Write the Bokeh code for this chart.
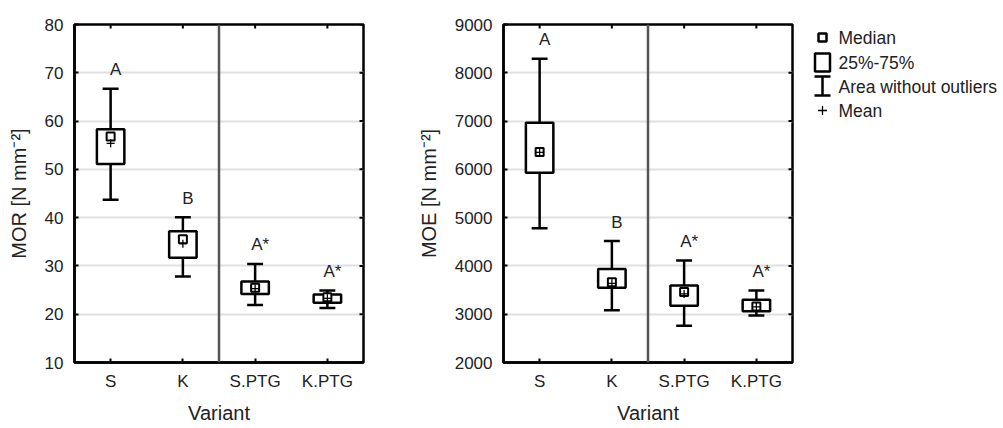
import numpy as np
from bokeh.plotting import figure
from bokeh.layouts import row
from bokeh.models import Range1d, FixedTicker, Span, ColumnDataSource
from bokeh.embed import file_html
from bokeh.resources import INLINE
from bokeh.core.properties import value

# ---------------- data ----------------
variants = ["S", "K", "S.PTG", "K.PTG"]
letters = ["A", "B", "A*", "A*"]

mor_low = [43.7, 27.8, 21.9, 21.3]
mor_q1 = [51.1, 31.7, 24.2, 22.4]
mor_median = [56.8, 35.5, 25.5, 23.5]
mor_mean = [55.4, 34.6, 25.3, 23.3]
mor_q3 = [58.3, 37.2, 26.8, 24.1]
mor_high = [66.7, 40.1, 30.4, 24.9]
mor_ticks = [10, 20, 30, 40, 50, 60, 70, 80]

moe_low = [4780, 3080, 2760, 2975]
moe_q1 = [5930, 3550, 3175, 3060]
moe_median = [6360, 3660, 3460, 3160]
moe_mean = [6350, 3640, 3420, 3150]
moe_q3 = [6965, 3935, 3595, 3300]
moe_high = [8290, 4515, 4115, 3490]
moe_ticks = [2000, 3000, 4000, 5000, 6000, 7000, 8000, 9000]

legend_labels = ["Median", "25%-75%", "Area without outliers", "Mean"]

FONT = "Liberation Sans"
TXT = "#222222"
H = 428
BT, BB = 24, 66


def panel(ylabel, yticks, low, q1, med, mean, q3, high, width, bl, br):
    x = np.arange(1, len(variants) + 1)
    ymin, ymax = yticks[0], yticks[-1]
    src = ColumnDataSource(dict(
        x=x, xl=x - 0.19, xr=x + 0.19, cl=x - 0.11, cr=x + 0.11, xt=x + 0.07,
        low=low, q1=q1, med=med, mean=mean, q3=q3, high=high, let=letters))
    xr = Range1d(0.5, len(variants) + 0.5)
    p = figure(width=width, height=H, output_backend="svg", toolbar_location=None,
               x_range=xr, y_range=Range1d(ymin, ymax),
               min_border_left=bl, min_border_right=br, min_border_top=BT, min_border_bottom=BB)
    p.outline_line_color = "black"
    p.outline_line_width = 2.5
    p.xgrid.grid_line_color = None
    p.ygrid.grid_line_color = "#e0e0e0"
    p.ygrid.grid_line_width = 2
    p.yaxis.ticker = FixedTicker(ticks=yticks)
    p.xaxis.ticker = FixedTicker(ticks=list(x))
    p.xaxis.major_label_overrides = {int(i): v for i, v in zip(x, variants)}
    p.xaxis.axis_label = "Variant"
    p.yaxis.axis_label = ylabel
    for ax in (p.xaxis[0], p.yaxis[0]):
        ax.axis_line_width = 2.5
        ax.axis_line_color = "black"
        ax.major_tick_in = 4
        ax.major_tick_out = 0
        ax.major_tick_line_width = 2
        ax.minor_tick_line_color = None
        ax.major_label_text_font = FONT
        ax.major_label_text_font_size = "17px"
        ax.major_label_text_color = TXT
        ax.axis_label_text_font = FONT
        ax.axis_label_text_font_size = "20px"
        ax.axis_label_text_font_style = "normal"
        ax.axis_label_text_color = TXT
    p.xaxis.major_label_standoff = 9
    p.xaxis.axis_label_standoff = 8
    p.yaxis.major_label_standoff = 11
    p.yaxis.axis_label_standoff = 12

    # inside ticks on the top and right frame edges (clipped to the frame)
    p.scatter(x=x, y=[ymax] * len(x), marker="dash", angle=np.pi / 2, size=8,
              line_color="black", line_width=2)
    p.scatter(x=[xr.end] * len(yticks), y=yticks, marker="dash", size=8,
              line_color="black", line_width=2)

    p.add_layout(Span(location=2.5, dimension="height", line_color="#555555", line_width=2.5))

    p.segment(x0="x", y0="low", x1="x", y1="high", source=src, line_color="black", line_width=2.5)
    p.quad(left="xl", right="xr", bottom="q1", top="q3", source=src,
           fill_color="white", line_color="black", line_width=2.5)
    p.segment(x0="cl", y0="low", x1="cr", y1="low", source=src, line_color="black", line_width=2.5)
    p.segment(x0="cl", y0="high", x1="cr", y1="high", source=src, line_color="black", line_width=2.5)
    p.scatter(x="x", y="med", source=src, marker="square", size=8,
              fill_color="white", line_color="black", line_width=2)
    p.scatter(x="x", y="mean", source=src, marker="cross", size=8,
              line_color="black", line_width=1.3)
    p.text(x="xt", y="high", text="let", source=src, y_offset=-19,
           text_align="center", text_baseline="middle",
           text_font=value(FONT), text_font_size="17px", text_color=TXT)
    return p


p1 = panel("MOR [N mm\u207b\u00b2]", mor_ticks, mor_low, mor_q1, mor_median, mor_mean,
           mor_q3, mor_high, 410, 74, 47)
p2 = panel("MOE [N mm\u207b\u00b2]", moe_ticks, moe_low, moe_q1, moe_median, moe_mean,
           moe_q3, moe_high, 390, 93, 8)

# ---------------- legend (data units = page pixels) ----------------
lg = figure(width=203, height=H, output_backend="svg", toolbar_location=None,
            x_range=Range1d(800, 1003), y_range=Range1d(H - BB, BT),
            x_axis_location=None, y_axis_location=None,
            min_border_left=0, min_border_right=0, min_border_top=BT, min_border_bottom=BB)
lg.outline_line_color = None
lg.grid.grid_line_color = None
lg.scatter(x=[822], y=[37], marker="square", size=8, fill_color="white",
           line_color="black", line_width=2.5)
lg.quad(left=[814.5], right=[829.5], top=[53], bottom=[71], fill_color="white",
        line_color="black", line_width=2.5)
lg.segment(x0=[822, 814, 814], y0=[76, 76, 95], x1=[822, 830, 830], y1=[95, 76, 95],
           line_color="black", line_width=2.5)
lg.scatter(x=[822], y=[110], marker="cross", size=9, line_color="black", line_width=1.3)
lg.text(x=[838] * 4, y=[37, 62, 86, 110], text=legend_labels, text_baseline="middle",
        text_align="left", text_font=value(FONT), text_font_size="17.5px", text_color=TXT)

layout = row(p1, p2, lg)
open("out.html", "w").write(file_html(layout, INLINE))
